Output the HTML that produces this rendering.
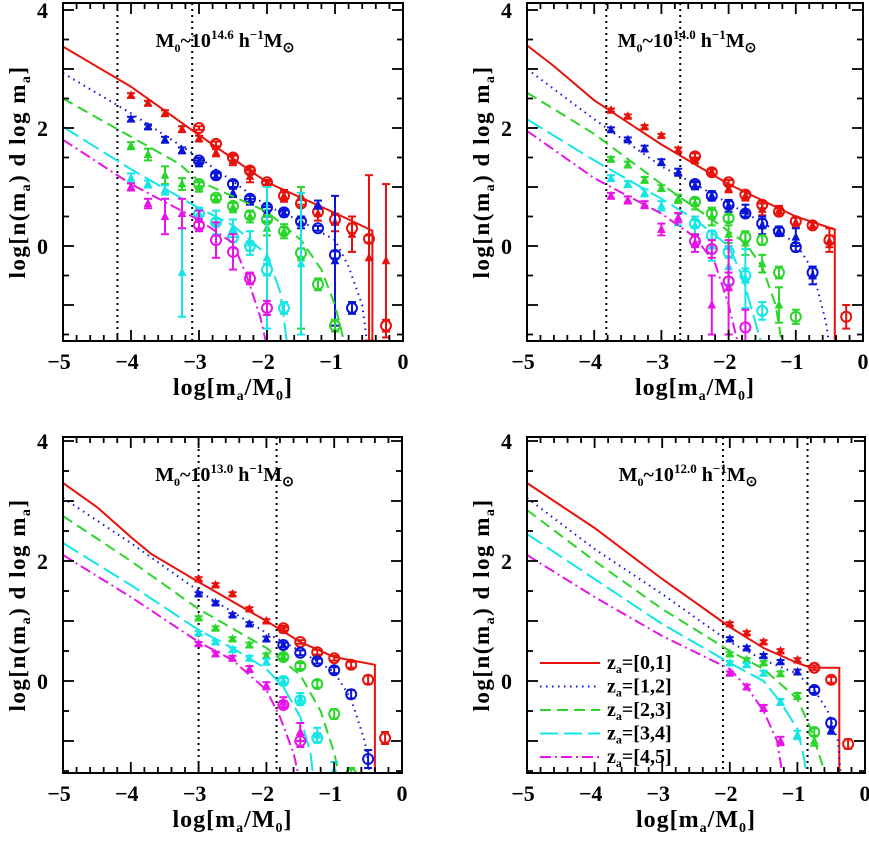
<!DOCTYPE html>
<html><head><meta charset="utf-8"><style>
html,body{margin:0;padding:0;background:#fff;}
svg{display:block;font-family:"Liberation Serif",serif;font-weight:bold;}
</style></head><body>
<svg id="fig" width="869" height="841" viewBox="0 0 869 841" xmlns="http://www.w3.org/2000/svg"></svg>
<script>
// ---- data: model curves [x,y] and measured points [x,y,err] ----
const p1Title = "14.6", p2Title = "14.0", p3Title = "13.0", p4Title = "12.0";
const p1VLines = [-4.2, -3.1], p2VLines = [-3.82, -2.72], p3VLines = [-3.0, -1.85], p4VLines = [-2.1, -0.85];

const p1_red = [[-5,3.38],[-4,2.7],[-3,1.88],[-2,1.08],[-1,0.56],[-0.45,0.26],[-0.45,-1.7]];
const p1_blue = [[-5,2.93],[-4,2.25],[-3,1.5],[-2,0.68],[-1.5,0.42],[-1,0.1],[-0.8,-0.35],[-0.6,-1.0],[-0.52,-1.7]];
const p1_green = [[-5,2.5],[-4,1.85],[-3.3,1.4],[-3,1.1],[-2,0.58],[-1.5,0.1],[-1.2,-0.4],[-1.0,-1.0],[-0.85,-1.7]];
const p1_cyan = [[-5,2.02],[-4,1.3],[-3,0.64],[-2.5,0.35],[-2,-0.15],[-1.8,-0.8],[-1.7,-1.7]];
const p1_magenta = [[-5,1.8],[-4,1.05],[-3,0.44],[-2.5,0.05],[-2.3,-0.5],[-2.1,-1.2],[-2.0,-1.7]];

const p2_red = [[-5,3.4],[-4.6,3.05],[-4,2.47],[-3,1.72],[-2,1.05],[-1,0.5],[-0.42,0.28],[-0.42,-1.7]];
const p2_blue = [[-5,3.0],[-4,2.15],[-3,1.35],[-2.5,1.05],[-2,0.72],[-1.5,0.4],[-1,0.05],[-0.75,-0.4],[-0.55,-1.3],[-0.5,-1.7]];
const p2_green = [[-5,2.6],[-4,1.9],[-3,1.05],[-2.5,0.65],[-2,0.25],[-1.75,0.05],[-1.5,-0.35],[-1.3,-1.0],[-1.2,-1.7]];
const p2_cyan = [[-5,2.15],[-4,1.45],[-3,0.8],[-2.5,0.45],[-2,0.0],[-1.8,-0.5],[-1.6,-1.3],[-1.5,-1.7]];
const p2_magenta = [[-5,1.95],[-4,1.15],[-3,0.55],[-2.5,0.15],[-2.2,-0.3],[-2.0,-1.0],[-1.85,-1.7]];

const p3_red = [[-5,3.3],[-4.5,2.9],[-4,2.4],[-3.7,2.12],[-3,1.65],[-2,1.0],[-1.5,0.65],[-1,0.4],[-0.4,0.27],[-0.4,-1.7]];
const p3_blue = [[-5,3.05],[-4,2.3],[-3,1.5],[-2,0.8],[-1.5,0.5],[-1,0.15],[-0.75,-0.3],[-0.55,-1.0],[-0.45,-1.7]];
const p3_green = [[-5,2.75],[-4,2.0],[-3,1.2],[-2,0.55],[-1.5,0.1],[-1.2,-0.5],[-1.0,-1.2],[-0.9,-1.7]];
const p3_cyan = [[-5,2.3],[-4,1.6],[-3,0.85],[-2.5,0.55],[-2,0.2],[-1.75,-0.1],[-1.5,-0.6],[-1.35,-1.2],[-1.3,-1.7]];
const p3_magenta = [[-5,2.1],[-4,1.4],[-3,0.65],[-2.5,0.35],[-2,-0.15],[-1.8,-0.6],[-1.6,-1.2],[-1.5,-1.7]];

const p4_red = [[-5,3.3],[-4,2.55],[-3,1.7],[-2,0.9],[-1.5,0.55],[-1,0.3],[-0.8,0.22],[-0.38,0.22],[-0.38,-1.7]];
const p4_blue = [[-5,3.05],[-4,2.2],[-3,1.45],[-2,0.65],[-1.5,0.35],[-1,0.12],[-0.75,-0.15],[-0.55,-0.5],[-0.4,-1.0],[-0.35,-1.7]];
const p4_green = [[-5,2.85],[-4,2.0],[-3,1.2],[-2,0.5],[-1.5,0.2],[-1.0,-0.3],[-0.8,-0.8],[-0.6,-1.5],[-0.55,-1.7]];
const p4_cyan = [[-5,2.45],[-4,1.7],[-3,0.95],[-2,0.3],[-1.5,0.0],[-1.25,-0.35],[-1.0,-0.8],[-0.9,-1.3],[-0.85,-1.7]];
const p4_magenta = [[-5,2.1],[-4,1.4],[-3,0.75],[-2,0.2],[-1.75,-0.1],[-1.5,-0.5],[-1.3,-1.0],[-1.2,-1.7]];

const p1_red_tri = [[-4,2.55,0.04],[-3.75,2.42,0.04],[-3.5,2.25,0.05],[-3.25,1.98,0.05],[-3,1.82,0.05],[-2.75,1.58,0.06],[-2.5,1.45,0.08],[-2.25,1.18,0.1],[-2,1.05,0.05],[-1.75,0.85,0.1],[-1.5,0.85,0.15],[-1.25,0.55,0.12],[-1,0.4,0.15],[-0.75,0.2,0.3],[-0.5,-0.2,1.4],[-0.25,-0.25,1.3]];
const p1_red_circ = [[-3,2.0,0.03],[-2.75,1.73,0.04],[-2.5,1.5,0.05],[-2.25,1.28,0.05],[-2,1.08,0.04],[-1.75,0.85,0.06],[-1.5,0.72,0.06],[-1.25,0.58,0.07],[-1,0.45,0.08],[-0.75,0.3,0.08],[-0.5,0.12,0.06],[-0.25,-1.35,0.1]];
const p1_blue_tri = [[-4,2.15,0.04],[-3.75,2.02,0.04],[-3.5,1.8,0.05],[-3.25,1.62,0.05],[-3,1.4,0.05],[-2.75,1.18,0.05],[-2.5,0.9,0.07],[-2.25,0.75,0.05],[-2,0.58,0.08],[-1.75,0.55,0.05],[-1.5,0.4,0.1],[-1.25,0.7,0.07],[-1,-0.25,1.1]];
const p1_blue_circ = [[-3,1.45,0.04],[-2.75,1.2,0.05],[-2.5,1.05,0.05],[-2.25,0.8,0.05],[-2,0.65,0.05],[-1.75,0.57,0.05],[-1.5,0.42,0.05],[-1.25,0.3,0.04],[-1,-0.15,0.06],[-0.75,-1.05,0.1]];
const p1_green_tri = [[-4,1.7,0.06],[-3.75,1.55,0.1],[-3.5,1.2,0.15],[-3.25,1.05,0.1],[-3,1.0,0.08],[-2.75,0.8,0.06],[-2.5,0.65,0.08],[-2.25,0.5,0.1],[-2,0.3,0.12],[-1.75,0.25,0.12],[-1.5,-0.2,1.2]];
const p1_green_circ = [[-3,1.05,0.04],[-2.75,0.82,0.04],[-2.5,0.68,0.05],[-2.25,0.52,0.06],[-2,0.45,0.06],[-1.75,0.25,0.07],[-1.5,-0.12,0.08],[-1.25,-0.65,0.1],[-1,-1.35,0.1]];
const p1_cyan_tri = [[-4,1.15,0.08],[-3.75,1.05,0.06],[-3.5,0.95,0.08],[-3.25,-0.45,0.75],[-3,0.55,0.1],[-2.75,0.4,0.2],[-2.5,0.3,0.15],[-2.25,0.05,0.2],[-2,-0.2,1.2],[-1.5,-0.3,1.2]];
const p1_cyan_circ = [[-3,0.55,0.06],[-2.75,0.4,0.06],[-2.5,0.15,0.08],[-2.25,0.0,0.08],[-2,-0.4,0.1],[-1.75,-1.05,0.1]];
const p1_magenta_tri = [[-4,1.0,0.06],[-3.75,0.72,0.08],[-3.5,0.5,0.3],[-3.25,0.55,0.25],[-3,0.45,0.15]];
const p1_magenta_circ = [[-3,0.35,0.1],[-2.75,0.1,0.3],[-2.5,-0.1,0.3],[-2.25,-0.55,0.1],[-2,-1.05,0.12]];

const p2_red_tri = [[-3.75,2.3,0.03],[-3.5,2.2,0.03],[-3.25,2.02,0.03],[-3,1.87,0.03],[-2.75,1.63,0.04],[-2.5,1.45,0.05],[-2.25,1.25,0.05],[-2,0.97,0.06],[-1.75,0.85,0.08],[-1.5,0.62,0.1],[-1.25,0.6,0.08],[-1,0.4,0.08],[-0.75,0.35,0.05],[-0.5,0.08,0.1]];
const p2_red_circ = [[-2.5,1.52,0.05],[-2.25,1.25,0.05],[-2,1.08,0.04],[-1.75,0.87,0.05],[-1.5,0.7,0.06],[-1.25,0.58,0.06],[-1,0.42,0.06],[-0.75,0.35,0.05],[-0.5,0.1,0.2],[-0.25,-1.2,0.2]];
const p2_blue_tri = [[-3.75,1.97,0.04],[-3.5,1.8,0.04],[-3.25,1.65,0.05],[-3,1.42,0.05],[-2.75,1.25,0.06],[-2.5,1.02,0.06],[-2.25,0.85,0.08],[-2,0.68,0.1],[-1.75,0.6,0.1],[-1.5,0.35,0.15],[-1.25,0.25,0.08],[-1,0.15,0.15],[-0.75,-0.5,0.15]];
const p2_blue_circ = [[-2.5,1.05,0.05],[-2.25,0.85,0.06],[-2,0.7,0.06],[-1.75,0.55,0.06],[-1.5,0.38,0.08],[-1.25,0.25,0.06],[-1,-0.02,0.07],[-0.75,-0.45,0.1]];
const p2_green_tri = [[-3.75,1.47,0.04],[-3.5,1.38,0.05],[-3.25,1.12,0.05],[-3,0.98,0.05],[-2.75,0.8,0.07],[-2.5,0.72,0.1],[-2.25,0.5,0.15],[-2,0.2,0.15],[-1.75,0.05,0.2],[-1.5,-0.3,0.15],[-1.25,-1.0,0.3]];
const p2_green_circ = [[-2.5,0.75,0.05],[-2.25,0.55,0.06],[-2,0.47,0.06],[-1.75,0.15,0.08],[-1.5,0.1,0.08],[-1.25,-0.45,0.1],[-1,-1.2,0.12]];
const p2_cyan_tri = [[-3.75,1.15,0.05],[-3.5,1.05,0.05],[-3.25,0.9,0.06],[-3,0.68,0.08],[-2.75,0.45,0.1],[-2.5,0.35,0.15],[-2.25,0.0,0.25],[-2,-0.35,0.3],[-1.75,-0.55,0.5]];
const p2_cyan_circ = [[-2.5,0.38,0.06],[-2.25,0.18,0.08],[-2,-0.1,0.1],[-1.75,-0.5,0.12],[-1.5,-1.1,0.15]];
const p2_magenta_tri = [[-3.75,0.85,0.05],[-3.5,0.78,0.06],[-3.25,0.7,0.06],[-3,0.28,0.1],[-2.75,0.48,0.08],[-2.5,0.05,0.15],[-2.25,-1.0,0.5],[-2,-0.7,0.8]];
const p2_magenta_circ = [[-2.5,0.08,0.1],[-2.25,-0.05,0.15],[-2,-0.6,0.15],[-1.75,-1.38,0.3]];

const p3_red_tri = [[-3,1.7,0.03],[-2.75,1.6,0.03],[-2.5,1.45,0.03],[-2.25,1.2,0.03],[-2,1.0,0.03],[-1.75,0.85,0.04]];
const p3_red_circ = [[-1.75,0.88,0.04],[-1.5,0.65,0.03],[-1.25,0.48,0.04],[-1,0.38,0.04],[-0.75,0.27,0.05],[-0.5,0.02,0.07],[-0.25,-0.95,0.1]];
const p3_blue_tri = [[-3,1.45,0.03],[-2.75,1.3,0.03],[-2.5,1.1,0.03],[-2.25,0.95,0.03],[-2,0.7,0.04],[-1.75,0.6,0.04]];
const p3_blue_circ = [[-1.75,0.6,0.04],[-1.5,0.47,0.04],[-1.25,0.33,0.04],[-1,0.18,0.05],[-0.75,-0.22,0.07],[-0.5,-1.3,0.15]];
const p3_green_tri = [[-3,1.05,0.03],[-2.75,0.88,0.03],[-2.5,0.7,0.03],[-2.25,0.6,0.04],[-2,0.42,0.04],[-1.75,0.4,0.05]];
const p3_green_circ = [[-1.75,0.4,0.04],[-1.5,0.25,0.05],[-1.25,-0.05,0.06],[-1,-0.55,0.08],[-0.75,-1.55,0.1]];
const p3_cyan_tri = [[-3,0.8,0.03],[-2.75,0.65,0.03],[-2.5,0.52,0.04],[-2.25,0.38,0.04],[-2,0.32,0.05],[-1.75,0.0,0.07],[-1.5,-0.3,0.1],[-1.25,-0.9,0.12],[-1.0,-1.5,0.15]];
const p3_cyan_circ = [[-1.75,0.0,0.05],[-1.5,-0.32,0.06],[-1.25,-0.95,0.08]];
const p3_magenta_tri = [[-3,0.62,0.03],[-2.75,0.45,0.04],[-2.5,0.38,0.04],[-2.25,0.2,0.05],[-2,-0.08,0.06],[-1.75,-0.35,0.08],[-1.5,-0.85,0.15]];
const p3_magenta_circ = [[-1.75,-0.4,0.06],[-1.5,-1.0,0.1]];

const p4_red_tri = [[-2,0.95,0.03],[-1.75,0.8,0.03],[-1.5,0.65,0.03],[-1.25,0.5,0.03],[-1,0.35,0.03]];
const p4_red_circ = [[-0.75,0.22,0.04],[-0.5,0.02,0.05],[-0.25,-1.05,0.08]];
const p4_blue_tri = [[-2,0.7,0.03],[-1.75,0.55,0.03],[-1.5,0.42,0.03],[-1.25,0.32,0.03],[-1,0.15,0.04],[-0.5,-0.82,0.06]];
const p4_blue_circ = [[-0.75,-0.15,0.05],[-0.5,-0.7,0.07]];
const p4_green_tri = [[-2,0.45,0.03],[-1.75,0.35,0.03],[-1.5,0.3,0.03],[-1.25,0.12,0.04],[-1,-0.25,0.05],[-0.75,-1.0,0.08]];
const p4_green_circ = [[-0.75,-0.85,0.06]];
const p4_cyan_tri = [[-2,0.3,0.03],[-1.75,0.27,0.03],[-1.5,0.13,0.04],[-1.25,-0.35,0.05],[-1,-0.9,0.07]];
const p4_cyan_circ = [];
const p4_magenta_tri = [[-2,0.13,0.03],[-1.75,-0.1,0.04],[-1.5,-0.45,0.05],[-1.25,-1.0,0.07]];
const p4_magenta_circ = [];

const xTicks = [-5,-4,-3,-2,-1,0];
const yTickLabels = [0,2,4];
const seriesNames = ["red","blue","green","cyan","magenta"];
const legendLabels = ["[0,1]","[1,2]","[2,3]","[3,4]","[4,5]"];

// ---- rendering ----
const NS = "http://www.w3.org/2000/svg";
const svg = document.getElementById("fig");
const COL = {red:"#e8120c",blue:"#0a14d8",green:"#2ad62a",cyan:"#14e6e6",magenta:"#e614e6"};
const DASH = {red:"none",blue:"1.5 4.5",green:"11 6",cyan:"18 6",magenta:"11 4 2 4"};
function mk(tag, attrs, parent){const e=document.createElementNS(NS,tag);for(const k in attrs)e.setAttribute(k,attrs[k]);(parent||svg).appendChild(e);return e;}

const panels = [
 {id:"p1",L:63,R:403,T:3,B:341,y0:246,ys:59,title:p1Title,vl:p1VLines,
  lines:{red:p1_red,blue:p1_blue,green:p1_green,cyan:p1_cyan,magenta:p1_magenta},
  tri:{red:p1_red_tri,blue:p1_blue_tri,green:p1_green_tri,cyan:p1_cyan_tri,magenta:p1_magenta_tri},
  circ:{red:p1_red_circ,blue:p1_blue_circ,green:p1_green_circ,cyan:p1_cyan_circ,magenta:p1_magenta_circ}},
 {id:"p2",L:527,R:863,T:3,B:341,y0:246,ys:59,title:p2Title,vl:p2VLines,
  lines:{red:p2_red,blue:p2_blue,green:p2_green,cyan:p2_cyan,magenta:p2_magenta},
  tri:{red:p2_red_tri,blue:p2_blue_tri,green:p2_green_tri,cyan:p2_cyan_tri,magenta:p2_magenta_tri},
  circ:{red:p2_red_circ,blue:p2_blue_circ,green:p2_green_circ,cyan:p2_cyan_circ,magenta:p2_magenta_circ}},
 {id:"p3",L:63,R:402,T:437,B:773,y0:681,ys:60,title:p3Title,vl:p3VLines,
  lines:{red:p3_red,blue:p3_blue,green:p3_green,cyan:p3_cyan,magenta:p3_magenta},
  tri:{red:p3_red_tri,blue:p3_blue_tri,green:p3_green_tri,cyan:p3_cyan_tri,magenta:p3_magenta_tri},
  circ:{red:p3_red_circ,blue:p3_blue_circ,green:p3_green_circ,cyan:p3_cyan_circ,magenta:p3_magenta_circ}},
 {id:"p4",L:527,R:865,T:437,B:773,y0:681,ys:60,title:p4Title,vl:p4VLines,legend:true,
  lines:{red:p4_red,blue:p4_blue,green:p4_green,cyan:p4_cyan,magenta:p4_magenta},
  tri:{red:p4_red_tri,blue:p4_blue_tri,green:p4_green_tri,cyan:p4_cyan_tri,magenta:p4_magenta_tri},
  circ:{red:p4_red_circ,blue:p4_blue_circ,green:p4_green_circ,cyan:p4_cyan_circ,magenta:p4_magenta_circ}}
];

panels.forEach(function(P){
  const xs = v => P.L + (v+5)/5*(P.R-P.L);
  const ys = v => P.y0 - v*P.ys;
  const g = mk("g",{});
  
  
  const cp = mk("clipPath",{id:"clip-"+P.id},g);
  mk("rect",{x:P.L,y:P.T,width:P.R-P.L,height:P.B-P.T},cp);
  const plot = mk("g",{"clip-path":"url(#clip-"+P.id+")"},g);

  P.vl.forEach(function(v){
    const l = mk("line",{x1:xs(v),x2:xs(v),y1:P.T,y2:P.B,stroke:"#000","stroke-width":2,"stroke-dasharray":"2 4"},plot);
    
    
  });

  seriesNames.forEach(function(s){
    const pts = P.lines[s].map(p => xs(p[0]).toFixed(1)+","+ys(p[1]).toFixed(1)).join(" ");
    const pl = mk("polyline",{points:pts,fill:"none",stroke:COL[s],"stroke-width":2,"stroke-dasharray":DASH[s]},plot);
    
    

    P.tri[s].forEach(function(d){
      const cx=xs(d[0]), cy=ys(d[1]), t=ys(d[1]+d[2]), b=ys(d[1]-d[2]);
      const e = mk("g",{stroke:COL[s],"stroke-width":2,fill:COL[s]},plot);
      
      
      mk("line",{x1:cx,x2:cx,y1:t,y2:b},e);
      mk("line",{x1:cx-4,x2:cx+4,y1:t,y2:t},e);
      mk("line",{x1:cx-4,x2:cx+4,y1:b,y2:b},e);
      mk("polygon",{points:(cx-3.5)+","+(cy+3)+" "+(cx+3.5)+","+(cy+3)+" "+cx+","+(cy-4),"stroke-width":1},e);
    });
    P.circ[s].forEach(function(d){
      const cx=xs(d[0]), cy=ys(d[1]), t=ys(d[1]+d[2]), b=ys(d[1]-d[2]);
      const e = mk("g",{stroke:COL[s],"stroke-width":2,fill:"none"},plot);
      
      
      mk("line",{x1:cx,x2:cx,y1:t,y2:b},e);
      mk("line",{x1:cx-4,x2:cx+4,y1:t,y2:t},e);
      mk("line",{x1:cx-4,x2:cx+4,y1:b,y2:b},e);
      mk("circle",{cx:cx,cy:cy,r:5},e);
    });
  });

  const fr = mk("rect",{x:P.L,y:P.T,width:P.R-P.L,height:P.B-P.T,fill:"none",stroke:"#000","stroke-width":2},g);
  
  
  const tk = mk("g",{stroke:"#000","stroke-width":1.8},g);
  
  
  for(let i=0;i<=25;i++){
    const v=-5+i*0.2, x=xs(v), len=(i%5===0)?11:6;
    mk("line",{x1:x,x2:x,y1:P.B,y2:P.B-len},tk);
    mk("line",{x1:x,x2:x,y1:P.T,y2:P.T+len},tk);
  }
  for(let v=-1.5; v<=4; v+=0.5){
    const y=ys(v); if(y<P.T||y>P.B) continue;
    const len=(Math.abs(v-Math.round(v))<1e-6)?11:6;
    mk("line",{x1:P.L,x2:P.L+len,y1:y,y2:y},tk);
    mk("line",{x1:P.R,x2:P.R-len,y1:y,y2:y},tk);
  }
  xTicks.forEach(function(v){
    const t = mk("text",{x:xs(v)-(v<0?4:0),y:P.B+28,"text-anchor":"middle","font-size":22},g);
    t.textContent = v<0 ? "\u2212"+(-v) : String(v);
    
    
  });
  yTickLabels.forEach(function(v){
    const t = mk("text",{x:P.L-15,y:ys(v)+8,"text-anchor":"end","font-size":22},g);
    t.textContent = String(v);
    
    
  });
  const cx=(P.L+P.R)/2, cyy=(P.T+P.B)/2;
  const xt = mk("text",{x:cx,y:P.B+54,"text-anchor":"middle","font-size":24,"letter-spacing":1},g);
  xt.innerHTML = 'log[m<tspan font-size="14" dy="5">a</tspan><tspan dy="-5">/M</tspan><tspan font-size="14" dy="5">0</tspan><tspan dy="-5">]</tspan>';
  
  
  const yt = mk("text",{x:0,y:0,"text-anchor":"middle","font-size":23,"letter-spacing":1.5,transform:"translate("+(P.L-38)+","+cyy+") rotate(-90)"},g);
  yt.innerHTML = 'log[n(m<tspan font-size="14" dy="5">a</tspan><tspan dy="-5">)  d  log  m</tspan><tspan font-size="14" dy="5">a</tspan><tspan dy="-5">]</tspan>';
  
  
  const tt = mk("text",{x:cx-8,y:P.T+44,"text-anchor":"middle","font-size":20},g);
  tt.innerHTML = 'M<tspan font-size="12" dy="5">0</tspan><tspan dy="-5">~10</tspan><tspan font-size="13" dy="-8">'+P.title+'</tspan><tspan dy="8">  h</tspan><tspan font-size="13" dy="-8">\u22121</tspan><tspan dy="8">M</tspan><tspan font-size="14" dy="5">\u2299</tspan>';
  
  

  if(P.legend){
    const lg = mk("g",{},g);
    
    
    seriesNames.forEach(function(s,i){
      const y = 663 + i*23.5;
      const en = mk("g",{},lg);
      
      
      mk("line",{x1:540,x2:600,y1:y,y2:y,stroke:COL[s],"stroke-width":2,"stroke-dasharray":DASH[s]},en);
      const t = mk("text",{x:607,y:y+6,"font-size":20},en);
      t.innerHTML = 'z<tspan font-size="12" dy="4">a</tspan><tspan dy="-4">='+legendLabels[i]+'</tspan>';
    });
  }
});
</script>
</body></html>
